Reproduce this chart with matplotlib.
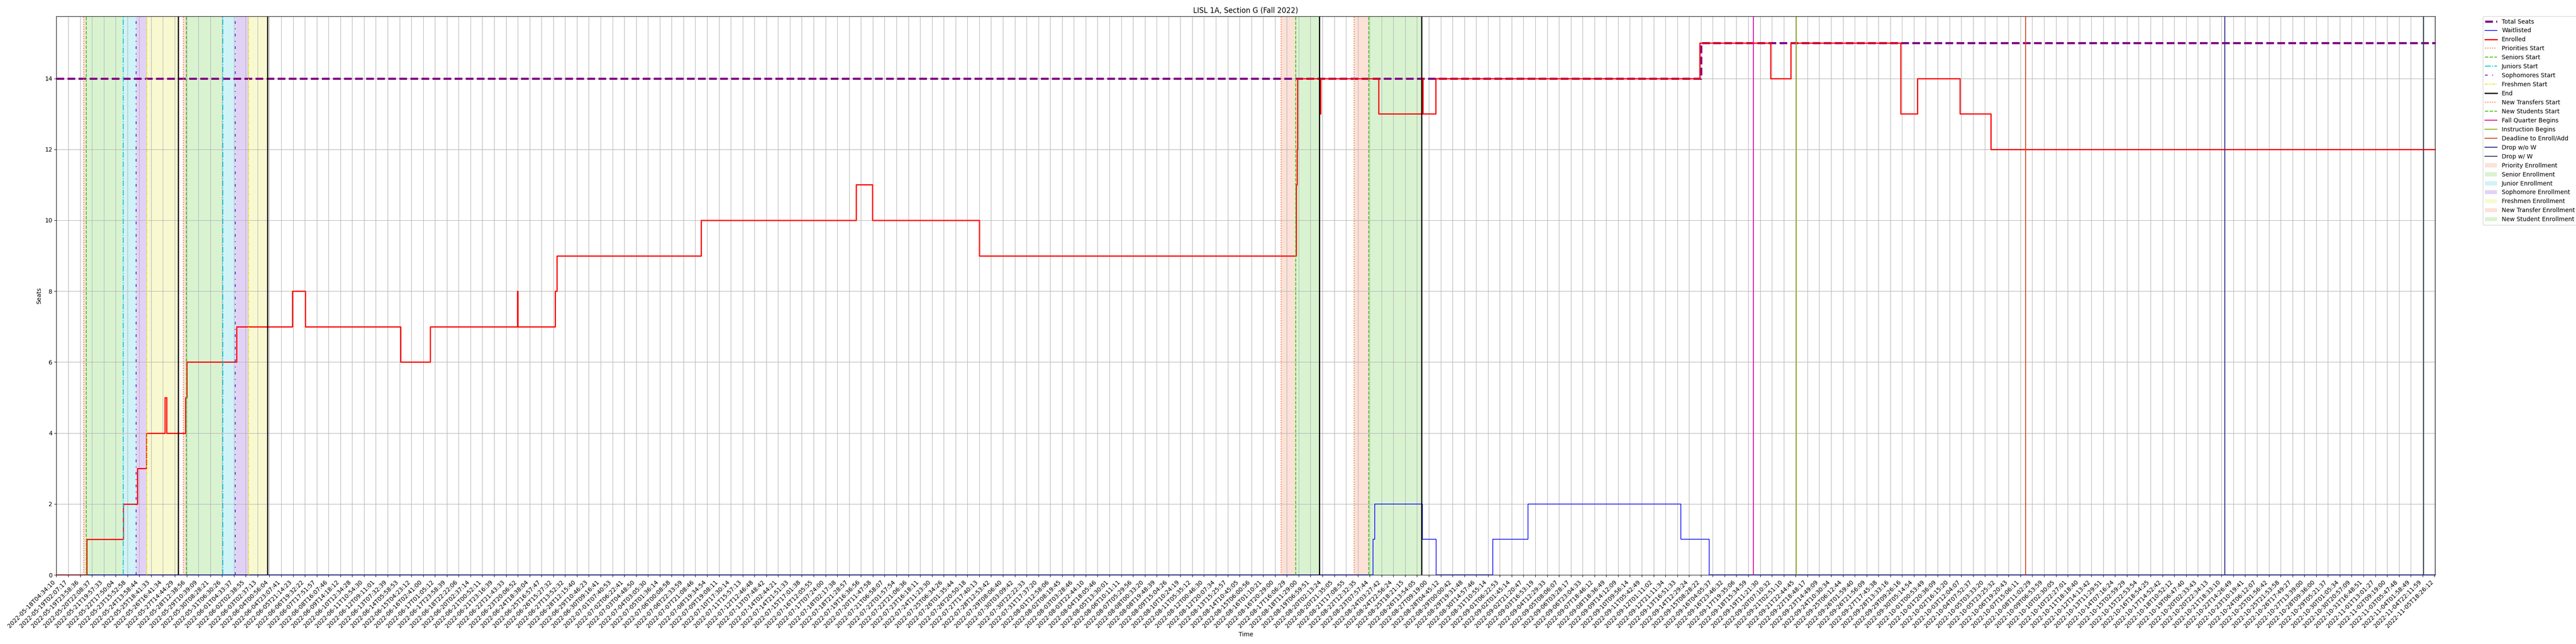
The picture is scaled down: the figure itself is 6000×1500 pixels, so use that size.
import numpy as np
import matplotlib
matplotlib.use("Agg")
import matplotlib.pyplot as plt

TITLE = "LISL 1A, Section G (Fall 2022)"

# sample timestamps shown as x tick labels (categorical axis, evenly spaced)
TICK_TIMES = [
    "2022-05-18T04:34:10", "2022-05-19T02:07:17", "2022-05-19T23:58:36", "2022-05-20T22:08:37",
    "2022-05-21T19:57:33", "2022-05-22T17:50:04", "2022-05-23T15:52:58", "2022-05-24T13:58:44",
    "2022-05-25T18:41:33", "2022-05-26T16:41:34", "2022-05-27T14:44:29", "2022-05-28T12:38:56",
    "2022-05-29T10:39:09", "2022-05-30T08:28:21", "2022-05-31T06:30:26", "2022-06-01T04:33:37",
    "2022-06-02T02:38:55", "2022-06-03T02:37:13", "2022-06-04T00:56:04", "2022-06-04T23:07:41",
    "2022-06-05T21:14:23", "2022-06-06T19:32:22", "2022-06-07T17:51:57", "2022-06-08T16:07:46",
    "2022-06-09T14:18:12", "2022-06-10T12:34:28", "2022-06-11T10:54:30", "2022-06-12T09:11:01",
    "2022-06-13T07:32:39", "2022-06-14T05:58:53", "2022-06-15T04:23:12", "2022-06-16T02:41:00",
    "2022-06-17T01:05:12", "2022-06-17T23:58:39", "2022-06-18T22:22:06", "2022-06-20T02:37:14",
    "2022-06-21T00:52:11", "2022-06-21T23:16:39", "2022-06-22T21:43:33", "2022-06-23T20:06:52",
    "2022-06-24T18:38:04", "2022-06-25T16:57:47", "2022-06-26T15:27:32", "2022-06-27T13:52:32",
    "2022-06-28T12:15:40", "2022-06-29T10:46:23", "2022-06-30T09:16:41", "2022-07-01T07:40:53",
    "2022-07-02T06:22:41", "2022-07-03T04:48:50", "2022-07-04T03:05:30", "2022-07-05T01:36:14",
    "2022-07-06T00:08:58", "2022-07-06T22:33:59", "2022-07-07T21:08:46", "2022-07-08T19:34:54",
    "2022-07-09T19:08:11", "2022-07-10T17:30:14", "2022-07-11T15:57:13", "2022-07-12T12:46:48",
    "2022-07-13T07:48:42", "2022-07-14T02:44:21", "2022-07-14T21:51:33", "2022-07-15T17:01:38",
    "2022-07-16T12:05:55", "2022-07-17T07:24:00", "2022-07-18T02:17:38", "2022-07-18T21:28:57",
    "2022-07-19T16:36:56", "2022-07-20T11:47:58", "2022-07-21T06:58:07", "2022-07-22T01:57:54",
    "2022-07-22T21:06:36", "2022-07-23T16:18:11", "2022-07-24T11:23:30", "2022-07-25T06:34:26",
    "2022-07-26T01:35:44", "2022-07-26T20:50:18", "2022-07-27T17:40:13", "2022-07-28T12:53:42",
    "2022-07-29T08:06:40", "2022-07-30T03:09:42", "2022-07-30T22:22:33", "2022-07-31T17:37:20",
    "2022-08-01T12:58:06", "2022-08-02T08:19:45", "2022-08-03T03:28:46", "2022-08-03T22:44:10",
    "2022-08-04T18:05:46", "2022-08-05T13:30:01", "2022-08-06T10:11:11", "2022-08-07T05:29:56",
    "2022-08-08T00:33:20", "2022-08-08T19:48:39", "2022-08-09T15:04:26", "2022-08-10T10:24:19",
    "2022-08-11T05:35:12", "2022-08-12T00:46:30", "2022-08-12T20:07:34", "2022-08-13T15:25:57",
    "2022-08-14T10:45:05", "2022-08-15T06:00:56", "2022-08-16T01:10:21", "2022-08-16T20:29:00",
    "2022-08-17T16:06:29", "2022-08-18T11:29:00", "2022-08-19T06:59:51", "2022-08-20T02:13:24",
    "2022-08-20T21:35:05", "2022-08-21T17:08:55", "2022-08-22T12:32:35", "2022-08-23T07:57:44",
    "2022-08-24T03:27:42", "2022-08-24T22:56:24", "2022-08-25T18:21:15", "2022-08-26T13:54:05",
    "2022-08-27T09:19:00", "2022-08-28T04:45:12", "2022-08-29T00:00:42", "2022-08-29T19:31:48",
    "2022-08-30T14:57:46", "2022-08-31T10:55:14", "2022-09-01T06:22:53", "2022-09-02T01:45:14",
    "2022-09-02T21:20:47", "2022-09-03T16:53:19", "2022-09-04T12:29:33", "2022-09-05T08:06:07",
    "2022-09-06T03:28:17", "2022-09-06T23:04:33", "2022-09-07T18:46:12", "2022-09-08T18:36:49",
    "2022-09-09T14:12:09", "2022-09-10T09:56:14", "2022-09-11T05:42:49", "2022-09-12T01:11:02",
    "2022-09-12T21:11:34", "2022-09-13T16:51:33", "2022-09-14T12:29:24", "2022-09-15T08:28:22",
    "2022-09-16T04:05:37", "2022-09-16T23:46:32", "2022-09-17T19:35:06", "2022-09-18T15:34:59",
    "2022-09-19T11:21:30", "2022-09-20T07:10:32", "2022-09-21T02:51:10", "2022-09-21T22:44:45",
    "2022-09-22T18:48:17", "2022-09-23T14:49:09", "2022-09-24T10:30:34", "2022-09-25T06:12:44",
    "2022-09-26T01:59:40", "2022-09-26T21:56:09", "2022-09-27T17:45:38", "2022-09-28T13:33:16",
    "2022-09-29T09:26:16", "2022-09-30T05:14:54", "2022-10-01T00:53:49", "2022-10-01T20:36:09",
    "2022-10-02T16:15:20", "2022-10-03T12:04:07", "2022-10-04T07:52:37", "2022-10-05T03:33:20",
    "2022-10-05T23:25:32", "2022-10-06T19:20:43", "2022-10-07T15:06:11", "2022-10-08T11:02:29",
    "2022-10-09T06:53:59", "2022-10-10T02:30:05", "2022-10-10T22:27:01", "2022-10-11T18:18:40",
    "2022-10-12T14:13:42", "2022-10-13T11:29:51", "2022-10-14T07:16:24", "2022-10-15T02:59:29",
    "2022-10-15T22:53:54", "2022-10-16T18:54:25", "2022-10-17T14:52:42", "2022-10-18T10:52:12",
    "2022-10-19T06:47:40", "2022-10-20T02:33:43", "2022-10-20T22:34:13", "2022-10-21T18:33:10",
    "2022-10-22T14:26:49", "2022-10-23T10:19:41", "2022-10-24T06:12:07", "2022-10-25T01:56:42",
    "2022-10-25T21:53:58", "2022-10-26T17:49:27", "2022-10-27T13:39:00", "2022-10-28T09:36:00",
    "2022-10-29T05:21:37", "2022-10-30T01:05:34", "2022-10-30T20:57:09", "2022-10-31T16:48:51",
    "2022-11-01T13:01:27", "2022-11-02T09:19:00", "2022-11-03T05:47:48", "2022-11-04T01:58:49",
    "2022-11-04T22:11:59", "2022-11-05T18:26:12",
]
LAST_SAMPLE = "2022-11-05T19:30:00"

TOTAL_SEATS_TIMES = ["2022-05-18T04:34:10", "2022-09-15T08:30:00"]
TOTAL_SEATS = [14, 15]

ENROLLED_TIMES = [
    "2022-05-18T04:34:10", "2022-05-20T12:40:00", "2022-05-23T08:25:00", "2022-05-24T10:50:00",
    "2022-05-25T07:40:00", "2022-05-26T20:25:00", "2022-05-26T23:30:00", "2022-05-28T10:40:00",
    "2022-05-28T13:20:00", "2022-06-01T09:50:00", "2022-06-05T19:45:00", "2022-06-06T20:40:00",
    "2022-06-14T08:10:00", "2022-06-16T16:05:00", "2022-06-23T19:25:00", "2022-06-23T20:20:00",
    "2022-06-26T19:05:00", "2022-06-26T22:10:00", "2022-07-08T08:20:00", "2022-07-19T09:00:00",
    "2022-07-20T11:00:00", "2022-07-27T17:40:00", "2022-08-18T07:05:00", "2022-08-18T07:40:00",
    "2022-08-18T08:40:00", "2022-08-18T09:35:00", "2022-08-19T22:20:00", "2022-08-19T23:30:00",
    "2022-08-23T22:20:00", "2022-08-26T22:30:00", "2022-08-26T23:30:00", "2022-08-27T20:55:00",
    "2022-09-15T06:30:00", "2022-09-20T05:10:00", "2022-09-21T14:45:00", "2022-09-29T07:25:00",
    "2022-09-30T11:10:00", "2022-10-03T10:05:00", "2022-10-05T13:30:00",
]
ENROLLED = [0, 1, 2, 3, 4, 5, 4, 5, 6, 7, 8, 7, 6, 7, 8, 7, 8, 9, 10, 11,
            10, 9, 10, 11, 12, 14, 13, 14, 13, 14, 13, 14, 15, 14, 15, 13, 14, 13, 12]

WAITLIST_TIMES = [
    "2022-05-18T04:34:10", "2022-08-23T13:15:00", "2022-08-23T16:00:00", "2022-08-26T22:30:00",
    "2022-08-27T21:30:00", "2022-08-31T18:40:00", "2022-09-03T05:10:00", "2022-09-13T22:45:00",
    "2022-09-15T22:10:00",
]
WAITLIST = [0, 1, 2, 1, 0, 1, 2, 1, 0]

# enrollment passes (first pass, second pass)
PRIORITY_START = ["2022-05-20T07:00:00", "2022-05-28T06:55:00"]
SENIOR_START = ["2022-05-20T11:15:00", "2022-05-28T12:00:00"]
JUNIOR_START = ["2022-05-23T07:45:00", "2022-05-31T07:35:00"]
SOPHOMORE_START = ["2022-05-24T07:45:00", "2022-06-01T07:30:00"]
FRESHMEN_START = ["2022-05-25T08:05:00", "2022-06-02T08:10:00"]
PASS_END = ["2022-05-27T21:30:00", "2022-06-03T21:30:00"]

# new student passes
NEW_TRANSFER_START = ["2022-08-17T06:20:00", "2022-08-22T06:30:00"]
NEW_STUDENT_START = ["2022-08-18T06:20:00", "2022-08-23T06:25:00"]
NEW_END = ["2022-08-19T21:25:00", "2022-08-26T21:40:00"]

FALL_BEGINS = "2022-09-19T00:00:00"
INSTRUCTION_BEGINS = "2022-09-22T00:00:00"
DEADLINE_ADD = "2022-10-08T00:00:00"
DROP_NO_W = "2022-10-22T00:00:00"
DROP_W = "2022-11-05T00:00:00"


def to_sec(times):
    return np.array(times, dtype="datetime64[s]").astype("int64").astype(float)


tick_sec = to_sec(TICK_TIMES)
tick_idx = np.arange(len(TICK_TIMES), dtype=float)


def to_pos(times):
    # place a timestamp on the categorical sample axis
    t = to_sec(np.atleast_1d(times))
    p = np.interp(t, tick_sec, tick_idx)
    rate = 1.0 / (tick_sec[-1] - tick_sec[-2])
    p = np.where(t > tick_sec[-1], tick_idx[-1] + (t - tick_sec[-1]) * rate, p)
    return p


def step_xy(times, values):
    x = np.append(to_pos(times), to_pos(LAST_SAMPLE))
    y = np.append(values, values[-1])
    return x, y


fig = plt.figure(figsize=(60, 15), dpi=100)
ax = fig.add_subplot(111)
fig.subplots_adjust(left=0.0219, right=0.9453, top=0.9747, bottom=0.1073)

x, y = step_xy(TOTAL_SEATS_TIMES, TOTAL_SEATS)
ax.step(x, y, where="post", color="purple", linestyle="--", linewidth=3.5, label="Total Seats")
x, y = step_xy(WAITLIST_TIMES, WAITLIST)
ax.step(x, y, where="post", color="blue", linewidth=1.2, label="Waitlisted")
x, y = step_xy(ENROLLED_TIMES, ENROLLED)
ax.step(x, y, where="post", color="red", linewidth=2, label="Enrolled")

c_prio = "#f26b3a"
c_sen = "#44c51b"
c_jun = "#11c4d8"
c_soph = "#6a1fd1"
c_fresh = "#e3e31b"

for i in range(2):
    lab = i == 0
    ax.axvline(to_pos(PRIORITY_START[i])[0], color=c_prio, linestyle=":", linewidth=1.5,
               label="Priorities Start" if lab else None)
    ax.axvline(to_pos(SENIOR_START[i])[0], color=c_sen, linestyle="--", linewidth=1.5,
               label="Seniors Start" if lab else None)
    ax.axvline(to_pos(JUNIOR_START[i])[0], color=c_jun, linestyle="-.", linewidth=1.5,
               label="Juniors Start" if lab else None)
    ax.axvline(to_pos(SOPHOMORE_START[i])[0], color=c_soph, linestyle=(0, (3, 5, 1, 5)), linewidth=1.5,
               label="Sophomores Start" if lab else None)
    ax.axvline(to_pos(FRESHMEN_START[i])[0], color=c_fresh, linestyle=(0, (3, 1, 1, 1, 1, 1)), linewidth=1.5,
               label="Freshmen Start" if lab else None)
    ax.axvline(to_pos(PASS_END[i])[0], color="black", linewidth=2, label="End" if lab else None)

for i in range(2):
    lab = i == 0
    ax.axvline(to_pos(NEW_TRANSFER_START[i])[0], color=c_prio, linestyle=":", linewidth=1.5,
               label="New Transfers Start" if lab else None)
    ax.axvline(to_pos(NEW_STUDENT_START[i])[0], color=c_sen, linestyle="--", linewidth=1.5,
               label="New Students Start" if lab else None)
    ax.axvline(to_pos(NEW_END[i])[0], color="black", linewidth=2)

ax.axvline(to_pos(FALL_BEGINS)[0], color="#e0119d", linewidth=1.5, label="Fall Quarter Begins")
ax.axvline(to_pos(INSTRUCTION_BEGINS)[0], color="#8db317", linewidth=1.5, label="Instruction Begins")
ax.axvline(to_pos(DEADLINE_ADD)[0], color="#d9461e", linewidth=1.5, label="Deadline to Enroll/Add")
ax.axvline(to_pos(DROP_NO_W)[0], color="#2e2a8c", linewidth=1.5, label="Drop w/o W")
ax.axvline(to_pos(DROP_W)[0], color="#2f3d5c", linewidth=1.5, label="Drop w/ W")

spans = [
    (PRIORITY_START, SENIOR_START, c_prio, "Priority Enrollment"),
    (SENIOR_START, JUNIOR_START, c_sen, "Senior Enrollment"),
    (JUNIOR_START, SOPHOMORE_START, c_jun, "Junior Enrollment"),
    (SOPHOMORE_START, FRESHMEN_START, c_soph, "Sophomore Enrollment"),
    (FRESHMEN_START, PASS_END, c_fresh, "Freshmen Enrollment"),
    (NEW_TRANSFER_START, NEW_STUDENT_START, c_prio, "New Transfer Enrollment"),
    (NEW_STUDENT_START, NEW_END, c_sen, "New Student Enrollment"),
]
for starts, ends, col, name in spans:
    for i in range(2):
        ax.axvspan(to_pos(starts[i])[0], to_pos(ends[i])[0], color=col, alpha=0.2,
                   linewidth=0, label=name if i == 0 else None)

ax.set_xticks(tick_idx)
ax.set_xticklabels(TICK_TIMES, rotation=45, ha="right")
ax.set_xlim(0, to_pos(LAST_SAMPLE)[0])
ax.set_ylim(0, 15.75)
ax.grid(True)
ax.set_title(TITLE)
ax.set_xlabel("Time")
ax.set_ylabel("Seats")
ax.legend(loc="upper left", bbox_to_anchor=(1.02, 1), borderaxespad=0)

fig.savefig("out.png", dpi=100)
